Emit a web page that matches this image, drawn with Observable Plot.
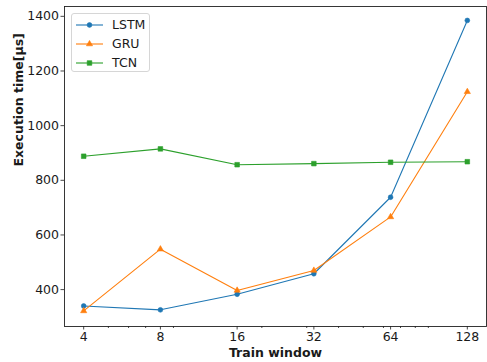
<!DOCTYPE html>
<html>
<head>
<meta charset="utf-8">
<script src="https://cdn.jsdelivr.net/npm/d3@7"></script>
<script src="https://cdn.jsdelivr.net/npm/@observablehq/plot@0.6"></script>
<style>
  html, body { margin: 0; padding: 0; background: #fff; }
  #wrap { position: relative; width: 487px; height: 362px; font-family: "DejaVu Sans", sans-serif; }
  #legend {
    position: absolute; left: 71px; top: 13px; width: 79px; height: 59px;
    border: 1px solid #d6d6d6; border-radius: 3px; background: rgba(255,255,255,0.85);
    box-sizing: border-box;
  }
  .row { position: absolute; left: 0; height: 19px; display: flex; align-items: center; font-size: 12.5px; color: #1a1a1a; }
  .row svg { margin-left: 4px; margin-right: 9px; }
</style>
</head>
<body>
<div id="wrap"><div id="legend"></div></div>
<script>
// Training window sizes (log-2 spaced)
const windows = [4, 8, 16, 32, 64, 128];
// Execution time per model, µs
const lstm = [340, 326, 383, 458, 738, 1385];
const gru  = [322, 548, 397, 470, 666, 1124];
const tcn  = [888, 915, 857, 861, 866, 868];

const seriesNames = ["LSTM", "GRU", "TCN"];
const seriesColors = ["#1f77b4", "#ff7f0e", "#2ca02c"];
const seriesSymbols = ["circle", "triangle", "square"];
const seriesRadii = [2.4, 2.3, 2.6];
const seriesValues = [lstm, gru, tcn];

const xTicks = windows;
const xMinorTicks = [5, 6, 7, 9, 20, 30, 40, 50, 60, 70, 80, 90];
const yTicks = [400, 600, 800, 1000, 1200, 1400];

const rows = seriesNames.flatMap((name, i) =>
  windows.map((w, j) => ({model: name, window: w, time: seriesValues[i][j]})));

const font = "DejaVu Sans, sans-serif";

const chart = Plot.plot({
  width: 487,
  height: 362,
  marginLeft: 64,
  marginRight: 1,
  marginTop: 6,
  marginBottom: 36,
  style: {fontFamily: font, fontSize: "12.5px", color: "#1a1a1a", background: "#fff"},
  x: {type: "log", base: 2, domain: [4 / Math.pow(2, 0.25), 128 * Math.pow(2, 0.25)]},
  y: {domain: [265, 1436]},
  color: {domain: seriesNames, range: seriesColors},
  marks: [
    Plot.axisX({ticks: xMinorTicks, tickSize: 2, tickFormat: () => "", strokeWidth: 0.8, label: null}),
    Plot.axisX({ticks: xTicks, tickSize: 3.5, tickPadding: 2.5, tickFormat: d => String(d),
      strokeWidth: 0.8, label: null}),
    Plot.axisY({ticks: yTicks, tickSize: 3.5, tickPadding: 2, strokeWidth: 0.8,
      tickFormat: d3.format("d"), label: null}),
    Plot.text(["Train window"], {frameAnchor: "bottom", dy: 30, lineAnchor: "bottom",
      fontWeight: "bold", fontSize: 12.5}),
    Plot.text(["Execution time[μs]"], {frameAnchor: "left", dx: -46, rotate: -90,
      fontWeight: "bold", fontSize: 12.5}),
    Plot.line(rows, {x: "window", y: "time", z: "model", stroke: "model", strokeWidth: 1.1}),
    ...seriesNames.map((name, i) =>
      Plot.dot(rows.filter(d => d.model === name), {x: "window", y: "time", fill: "model", stroke: "model",
        r: seriesRadii[i], symbol: seriesSymbols[i], strokeWidth: 0.6})),
    Plot.frame({stroke: "#222", strokeWidth: 0.9})
  ]
});

const wrap = document.getElementById("wrap");
wrap.insertBefore(chart, wrap.firstChild);

// Legend entries: line with marker, then the model name
const legend = document.getElementById("legend");
const d3Symbols = {circle: d3.symbolCircle, triangle: d3.symbolTriangle, square: d3.symbolSquare};
seriesNames.forEach((name, i) => {
  const row = document.createElement("div");
  row.className = "row";
  row.style.top = (1 + i * 19) + "px";
  const sw = d3.create("svg").attr("width", 27).attr("height", 10);
  sw.append("line").attr("x1", 0).attr("x2", 27).attr("y1", 5).attr("y2", 5)
    .attr("stroke", seriesColors[i]).attr("stroke-width", 1.1);
  const sym = d3.symbol().type(d3Symbols[seriesSymbols[i]]).size(Math.PI * Math.pow(seriesRadii[i], 2));
  sw.append("path").attr("d", sym()).attr("transform", "translate(13.5,5)")
    .attr("fill", seriesColors[i]).attr("stroke", seriesColors[i]).attr("stroke-width", 0.6);
  row.appendChild(sw.node());
  const label = document.createElement("span");
  label.textContent = name;
  row.appendChild(label);
  legend.appendChild(row);
});
</script>
</body>
</html>
